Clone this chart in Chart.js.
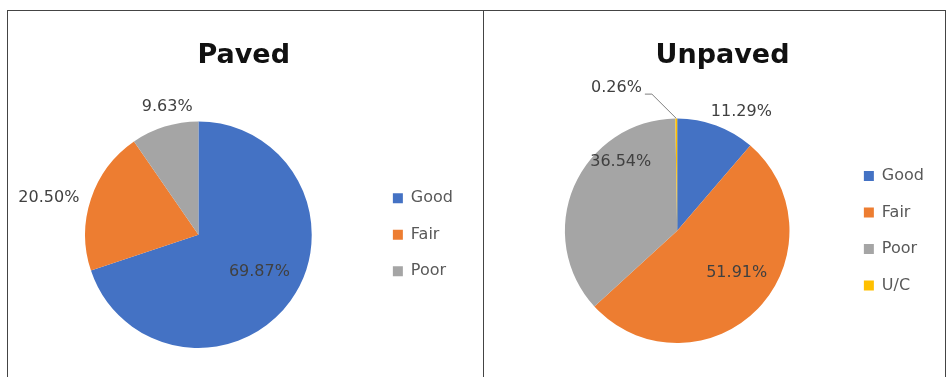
<!DOCTYPE html>
<html>
<head>
<meta charset="utf-8">
<script src="https://cdn.jsdelivr.net/npm/chart.js@4.4.0/dist/chart.umd.min.js"></script>
<style>
  body { margin: 0; background: #fff; }
  .line { position: absolute; background: #444; }
  canvas { position: absolute; }
</style>
</head>
<body>
<div class="line" style="left:7px; top:10px; width:939px; height:1px;"></div>
<div class="line" style="left:7px; top:10px; width:1px; height:367px;"></div>
<div class="line" style="left:483px; top:10px; width:1px; height:367px;"></div>
<div class="line" style="left:945px; top:10px; width:1px; height:367px;"></div>
<canvas id="paved" width="474" height="366" style="left:8px; top:11px;"></canvas>
<canvas id="unpaved" width="460" height="366" style="left:484px; top:11px;"></canvas>
<script>
const pavedLabels = ['Good', 'Fair', 'Poor'];
const pavedValues = [69.87, 20.50, 9.63];
const unpavedLabels = ['Good', 'Fair', 'Poor', 'U/C'];
const unpavedValues = [11.29, 51.91, 36.54, 0.26];
const colors = ['#4472C4', '#ED7D31', '#A5A5A5', '#FFC000'];

// label placement: [radius factor, angle shift in degrees]
const pavedPlace = [[0.63, -4.4], [1.36, -4.5], [1.16, 3.6]];
const unpavedPlace = [[1.2, 8.1], [0.65, -8.7], [0.79, 27.2], [1.38, -22.6]];

const sliceLabels = {
  id: 'sliceLabels',
  afterDatasetsDraw(chart, args, opts) {
    const ctx = chart.ctx;
    const meta = chart.getDatasetMeta(0);
    const values = chart.data.datasets[0].data;
    ctx.save();
    ctx.font = '16px "DejaVu Sans"';
    ctx.fillStyle = '#404040';
    ctx.textAlign = 'center';
    ctx.textBaseline = 'middle';
    meta.data.forEach((arc, i) => {
      const p = arc.getProps(['x', 'y', 'startAngle', 'endAngle', 'outerRadius'], true);
      const mid = (p.startAngle + p.endAngle) / 2;
      const a = mid + opts.place[i][1] * Math.PI / 180;
      const r = p.outerRadius * opts.place[i][0];
      const lx = p.x + Math.cos(a) * r;
      const ly = p.y + Math.sin(a) * r;
      const text = values[i].toFixed(2) + '%';
      ctx.fillText(text, lx, ly);
      if (opts.leader && opts.leader[i]) {
        const tw = ctx.measureText(text).width;
        const sx = lx + tw / 2 + 3;
        const sy = ly + 6;
        ctx.beginPath();
        ctx.strokeStyle = '#7f7f7f';
        ctx.lineWidth = 1;
        ctx.moveTo(sx, sy);
        ctx.lineTo(sx + 7, sy);
        ctx.lineTo(p.x + Math.cos(mid) * p.outerRadius, p.y + Math.sin(mid) * p.outerRadius);
        ctx.stroke();
      }
    });
    ctx.restore();
  }
};

function makePie(id, title, labels, values, place, leader, padding, titlePad, legendPad) {
  new Chart(document.getElementById(id), {
    type: 'pie',
    data: {
      labels: labels,
      datasets: [{
        data: values,
        backgroundColor: colors.slice(0, values.length),
        borderWidth: 0,
        hoverOffset: 0
      }]
    },
    options: {
      responsive: false,
      animation: false,
      layout: { padding: padding },
      plugins: {
        title: {
          display: true,
          text: title,
          color: '#111',
          font: { family: 'DejaVu Sans', size: 27, weight: 'bold', lineHeight: 1.2 },
          padding: titlePad
        },
        legend: {
          position: 'right',
          fullSize: false,
          labels: {
            boxWidth: 10,
            boxHeight: 10,
            padding: legendPad,
            color: '#595959',
            font: { family: 'DejaVu Sans', size: 16 }
          }
        },
        tooltip: { enabled: false },
        sliceLabels: { place: place, leader: leader }
      }
    },
    plugins: [sliceLabels]
  });
}

makePie('paved', 'Paved', pavedLabels, pavedValues, pavedPlace, null,
  { left: 16.5, right: 19, top: 0, bottom: 29 }, { top: 29, bottom: 49 }, 20.5);
makePie('unpaved', 'Unpaved', unpavedLabels, unpavedValues, unpavedPlace, [false, false, false, true],
  { left: 27, right: 10, top: 0, bottom: 34 }, { top: 29, bottom: 46 }, 20.5);
</script>
</body>
</html>
